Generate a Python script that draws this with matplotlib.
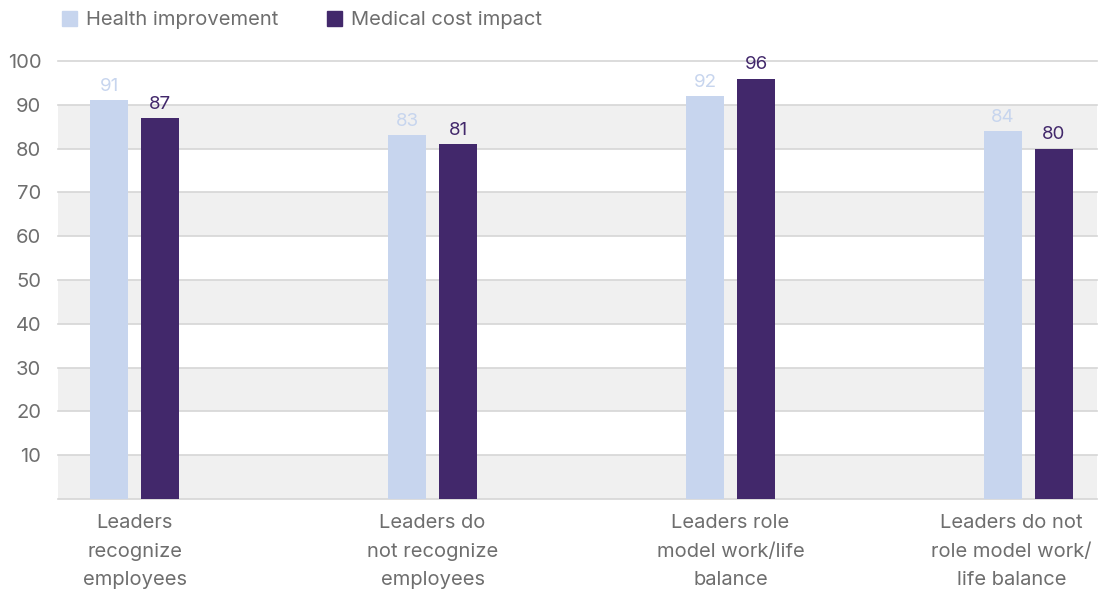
import numpy as np
import matplotlib.pyplot as plt
import matplotlib.transforms as mtransforms
from matplotlib.patches import Patch

# data
categories = ['Leaders\nrecognize\nemployees',
              'Leaders do\nnot recognize\nemployees',
              'Leaders role\nmodel work/life\nbalance',
              'Leaders do not\nrole model work/\nlife balance']
health = [91, 83, 92, 84]
medical = [87, 81, 96, 80]
yticks = [10, 20, 30, 40, 50, 60, 70, 80, 90, 100]

light = '#c7d5ee'
dark = '#42286b'
grey_txt = '#6e6e6e'

plt.rcParams['font.family'] = ['Inter', 'DejaVu Sans']

fig = plt.figure(figsize=(11.04, 5.93), dpi=100)
ax = fig.add_axes([0.0525, 0.1585, 0.9412, 0.7386])

x = np.arange(len(categories))
w = 0.1275
off = 0.0856

# alternating bands
for lo in range(0, 100, 20):
    ax.axhspan(lo, lo + 10, color='#f0f0f0', zorder=0, lw=0)
for yv in [0] + yticks:
    ax.axhline(yv, color='#d6d6d6', lw=1.2, zorder=1, clip_on=False)

ax.bar(x - off, health, w, color=light, zorder=2)
ax.bar(x + off, medical, w, color=dark, zorder=2)

for xi, v in zip(x, health):
    ax.text(xi - off, v + 1.2, str(v), ha='center', va='bottom',
            fontsize=13.5, color=light)
for xi, v in zip(x, medical):
    ax.text(xi + off, v + 1.2, str(v), ha='center', va='bottom',
            fontsize=13.5, color=dark)

ax.set_xlim(-0.257, 3.23)
ax.set_ylim(0, 100)
ax.set_yticks(yticks)
ax.set_xticks(x)
ax.set_xticklabels(categories, linespacing=1.75)
ax.tick_params(axis='both', length=0, labelsize=14.5, labelcolor=grey_txt)
ax.tick_params(axis='x', pad=11)
ax.tick_params(axis='y', pad=12)
for s in ax.spines.values():
    s.set_visible(False)

# last label is pushed left to stay inside the figure
last = ax.get_xticklabels()[-1]
last.set_transform(last.get_transform() +
                   mtransforms.ScaledTranslation(-0.17, 0, fig.dpi_scale_trans))

handles = [Patch(color=light, label='Health improvement'),
           Patch(color=dark, label='Medical cost impact')]
fig.legend(handles=handles, loc='upper left', bbox_to_anchor=(0.04, 1.012),
           ncol=2, frameon=False, fontsize=14.5, labelcolor=grey_txt,
           handlelength=0.75, handleheight=0.75, handletextpad=0.45,
           columnspacing=2.4)

fig.savefig('out.png', dpi=100)
